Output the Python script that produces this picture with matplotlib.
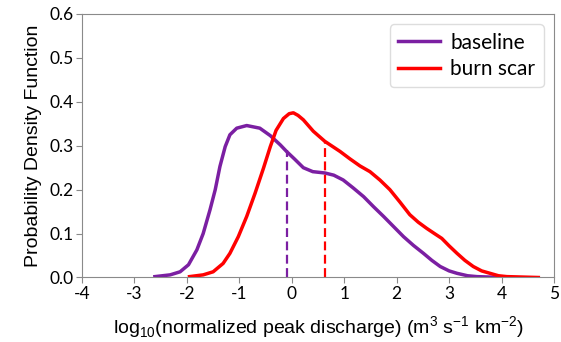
import matplotlib.pyplot as plt

plt.rcParams['axes.unicode_minus'] = False
plt.rcParams['mathtext.fontset'] = 'custom'
plt.rcParams['mathtext.rm'] = 'Liberation Sans'

# baseline pdf
base_x = [-2.61, -2.32, -2.13, -1.97, -1.81, -1.69, -1.56, -1.46, -1.37, -1.27, -1.18, -1.05,
          -0.86, -0.61, -0.41, -0.22, -0.10, 0.05, 0.22, 0.40, 0.63, 0.80, 0.98, 1.17, 1.37,
          1.56, 1.75, 1.94, 2.13, 2.32, 2.51, 2.67, 2.83, 3.00, 3.15, 3.35, 3.53, 4.03]
base_y = [0.002, 0.006, 0.013, 0.029, 0.063, 0.10, 0.154, 0.20, 0.253, 0.298, 0.325, 0.340,
          0.346, 0.340, 0.323, 0.302, 0.287, 0.270, 0.250, 0.241, 0.238, 0.233, 0.222, 0.204, 0.184,
          0.161, 0.139, 0.116, 0.093, 0.073, 0.055, 0.039, 0.025, 0.015, 0.0095, 0.004, 0.002, 0.0]

# burn scar pdf
burn_x = [-1.95, -1.69, -1.50, -1.31, -1.18, -1.02, -0.86, -0.70, -0.54, -0.41, -0.30, -0.16,
          -0.05, 0.03, 0.12, 0.22, 0.41, 0.63, 0.92, 1.11, 1.30, 1.49, 1.68, 1.87, 2.06, 2.25,
          2.41, 2.57, 2.72, 2.86, 3.00, 3.15, 3.30, 3.46, 3.62, 3.78, 3.94, 4.10, 4.70]
burn_y = [0.002, 0.006, 0.013, 0.032, 0.055, 0.093, 0.139, 0.192, 0.249, 0.298, 0.335, 0.362,
          0.373, 0.375, 0.369, 0.359, 0.333, 0.310, 0.287, 0.270, 0.254, 0.241, 0.222, 0.200, 0.172, 0.143,
          0.126, 0.112, 0.100, 0.089, 0.072, 0.055, 0.039, 0.025, 0.015, 0.0095, 0.004, 0.002, 0.0]

# medians (dashed lines)
base_med, base_med_y = -0.10, 0.29
burn_med, burn_med_y = 0.63, 0.31

purple = '#7b1fa2'

fig = plt.figure(figsize=(5.61, 3.42), dpi=100)
ax = fig.add_axes([0.1462, 0.1886, 0.8414, 0.7705])

ax.plot(base_x, base_y, color=purple, lw=2.5, label='baseline', solid_joinstyle='round')
ax.plot(burn_x, burn_y, color='red', lw=2.5, label='burn scar', solid_joinstyle='round')
ax.plot([base_med, base_med], [0, base_med_y], color=purple, lw=1.6, ls=(0, (4, 2)))
ax.plot([burn_med, burn_med], [0, burn_med_y], color='red', lw=1.6, ls=(0, (4, 2)))

ax.set_xlim(-4, 5)
ax.set_ylim(0, 0.6)
ax.set_xticks(range(-4, 6))
ax.set_yticks([0.0, 0.1, 0.2, 0.3, 0.4, 0.5, 0.6])
ax.set_yticklabels(['0.0', '0.1', '0.2', '0.3', '0.4', '0.5', '0.6'])

for s in ax.spines.values():
    s.set_color('#8a8a8a')
ax.tick_params(labelsize=12.5, color='#8a8a8a', length=4, pad=2)
for lab in ax.get_xticklabels() + ax.get_yticklabels():
    lab.set_family('Lato')

ax.set_xlabel(r'log$_{10}$(normalized peak discharge) (m$^{3}$ s$^{-1}$ km$^{-2}$)',
              fontsize=14, family='Liberation Sans', labelpad=9)
ax.set_ylabel('Probability Density Function', fontsize=14, family='Liberation Sans', labelpad=5)

ax.legend(loc='upper right', prop={'family': 'Lato', 'size': 15}, handlelength=2.0,
          framealpha=1, edgecolor='#dddddd', borderaxespad=0.5, handletextpad=0.5,
          labelspacing=0.3)

plt.savefig('out.png', dpi=100)
